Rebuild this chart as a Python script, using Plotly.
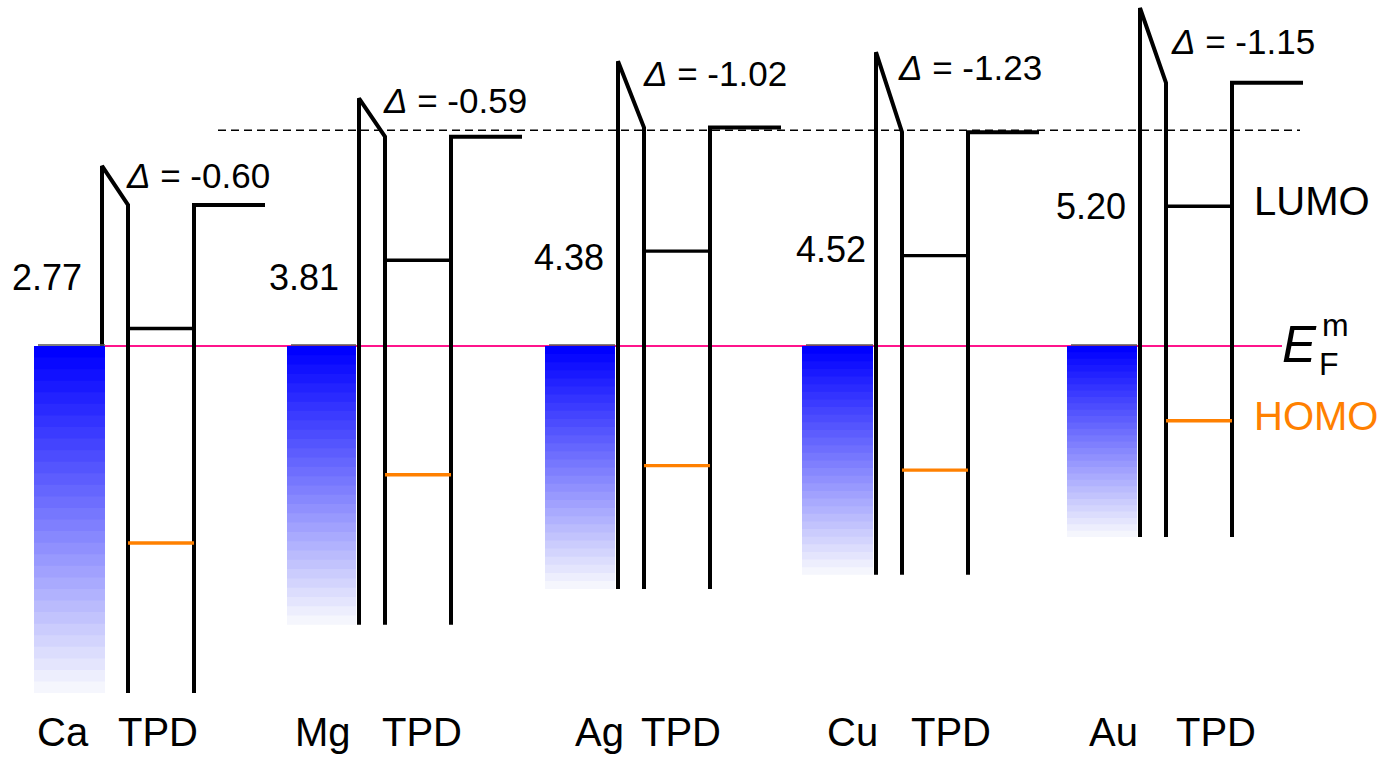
import plotly.graph_objects as go

# ---- data (energies in eV, relative to the metal Fermi level) ----
metals = ["Ca", "Mg", "Ag", "Cu", "Au"]
work_function = [2.77, 3.81, 4.38, 4.52, 5.20]
interface_dipole = [-0.60, -0.59, -1.02, -1.23, -1.15]
band_depth = [5.34, 4.29, 3.74, 3.52, 2.94]      # drawn depth of the filled metal band
tpd_ionization = 5.20                             # vacuum level -> HOMO
tpd_affinity = 1.90                               # vacuum level -> LUMO
reference_level = 3.32                            # dashed reference line
organic = "TPD"

# ---- layout geometry (x in page pixels) ----
W, H = 1384, 758
PX_PER_EV = 65.0
EF_PX = 346.0
Y_RANGE = [(EF_PX - H) / PX_PER_EV, EF_PX / PX_PER_EV]

metal_x = [102, 359, 618, 876, 1140]
gap_dx, tpd_dx, stub_dx = 26, 92, 163
block_x = [(34, 105), (287, 356), (545, 615), (802, 873), (1067, 1137)]

wf_label_x = [84, 341, 606, 868, 1128]
wf_label_y = [1.05, 1.05, 1.36, 1.48, 2.14]
dip_label_x = [124, 381, 641, 896, 1169]
dip_label_y = [2.63, 3.77, 4.20, 4.29, 4.69]
metal_label_x = [63, 323, 599, 852, 1113]
tpd_label_x = [158, 422, 681, 951, 1216]
bottom_label_y = -5.94

BLACK = "#000000"
HOMO_C = "#ff8000"
EF_C = "#ff148c"
FONT = "Liberation Sans, Arial, sans-serif"
N_BANDS = 30

fig = go.Figure()


def line(xs, ys, color=BLACK, width=4.0, dash=None):
    fig.add_trace(go.Scatter(
        x=xs, y=ys, mode="lines", hoverinfo="skip", showlegend=False,
        line=dict(color=color, width=width, dash=dash)))


# Fermi level of the metals
line([105, 1282], [0, 0], color=EF_C, width=2)
# reference vacuum level
line([218, 1300], [reference_level, reference_level], width=1.5, dash="8px,5px")

for i, m in enumerate(metals):
    x0 = metal_x[i]
    vac_m = work_function[i]
    vac_o = work_function[i] + interface_dipole[i]
    bottom = -band_depth[i]
    lumo = vac_o - tpd_affinity
    homo = vac_o - tpd_ionization

    # metal vacuum level, dipole step and left TPD edge
    line([x0, x0, x0 + gap_dx, x0 + gap_dx], [bottom, vac_m, vac_o, bottom])
    # right TPD edge with the organic vacuum level
    line([x0 + tpd_dx, x0 + tpd_dx, x0 + stub_dx], [bottom, vac_o, vac_o])
    # frontier orbitals
    line([x0 + gap_dx, x0 + tpd_dx], [lumo, lumo], width=3.4)
    line([x0 + gap_dx, x0 + tpd_dx], [homo, homo], color=HOMO_C, width=3.4)

# filled metal bands, shaded from blue down to white
for i, m in enumerate(metals):
    xl, xr = block_x[i]
    depth = band_depth[i]
    for k in range(N_BANDS):
        t = k / (N_BANDS - 1)
        r = round(0 + t * 245)
        g = round(0 + t * 246)
        b = round(255 - t * 2)
        y_top = -depth * k / N_BANDS
        y_bot = -depth * (k + 1) / N_BANDS
        if k < N_BANDS - 1:
            y_bot -= 0.03          # slight overlap so no seams show between bands
        fig.add_trace(go.Scatter(
            x=[xl, xr, xr, xl, xl], y=[y_top, y_top, y_bot, y_bot, y_top],
            mode="lines", fill="toself", fillcolor=f"rgb({r},{g},{b})",
            line=dict(width=0), hoverinfo="skip", showlegend=False))
    line([xl + 4, xr], [0.015, 0.015], color="#555555", width=1.5)

annotations = []


def text(x, y, s, size, color=BLACK, xanchor="center", yanchor="middle"):
    annotations.append(dict(
        x=x, y=y, xref="x", yref="y", text=s, showarrow=False,
        xanchor=xanchor, yanchor=yanchor,
        font=dict(family=FONT, size=size, color=color)))


for i, m in enumerate(metals):
    text(wf_label_x[i], wf_label_y[i], f"{work_function[i]:.2f}", 36, xanchor="right")
    text(dip_label_x[i], dip_label_y[i],
         f"<i>Δ</i> = {interface_dipole[i]:.2f}", 35, xanchor="left")
    text(metal_label_x[i], bottom_label_y, m, 40)
    text(tpd_label_x[i], bottom_label_y, organic, 40)

text(1252, 2.23, "LUMO", 40, xanchor="left")
text(1252, -1.08, "HOMO", 40, color=HOMO_C, xanchor="left")
text(1280, 0.02, "<i>E</i>", 51, xanchor="left")
text(1317, -0.28, "F", 32, xanchor="left")
text(1320, 0.33, "m", 32, xanchor="left")

fig.update_layout(
    width=W, height=H,
    margin=dict(l=0, r=0, t=0, b=0),
    paper_bgcolor="white", plot_bgcolor="white",
    xaxis=dict(range=[0, W], visible=False, fixedrange=True),
    yaxis=dict(range=Y_RANGE, visible=False, fixedrange=True),
    annotations=annotations,
    showlegend=False,
)

fig.write_html("out.html")
